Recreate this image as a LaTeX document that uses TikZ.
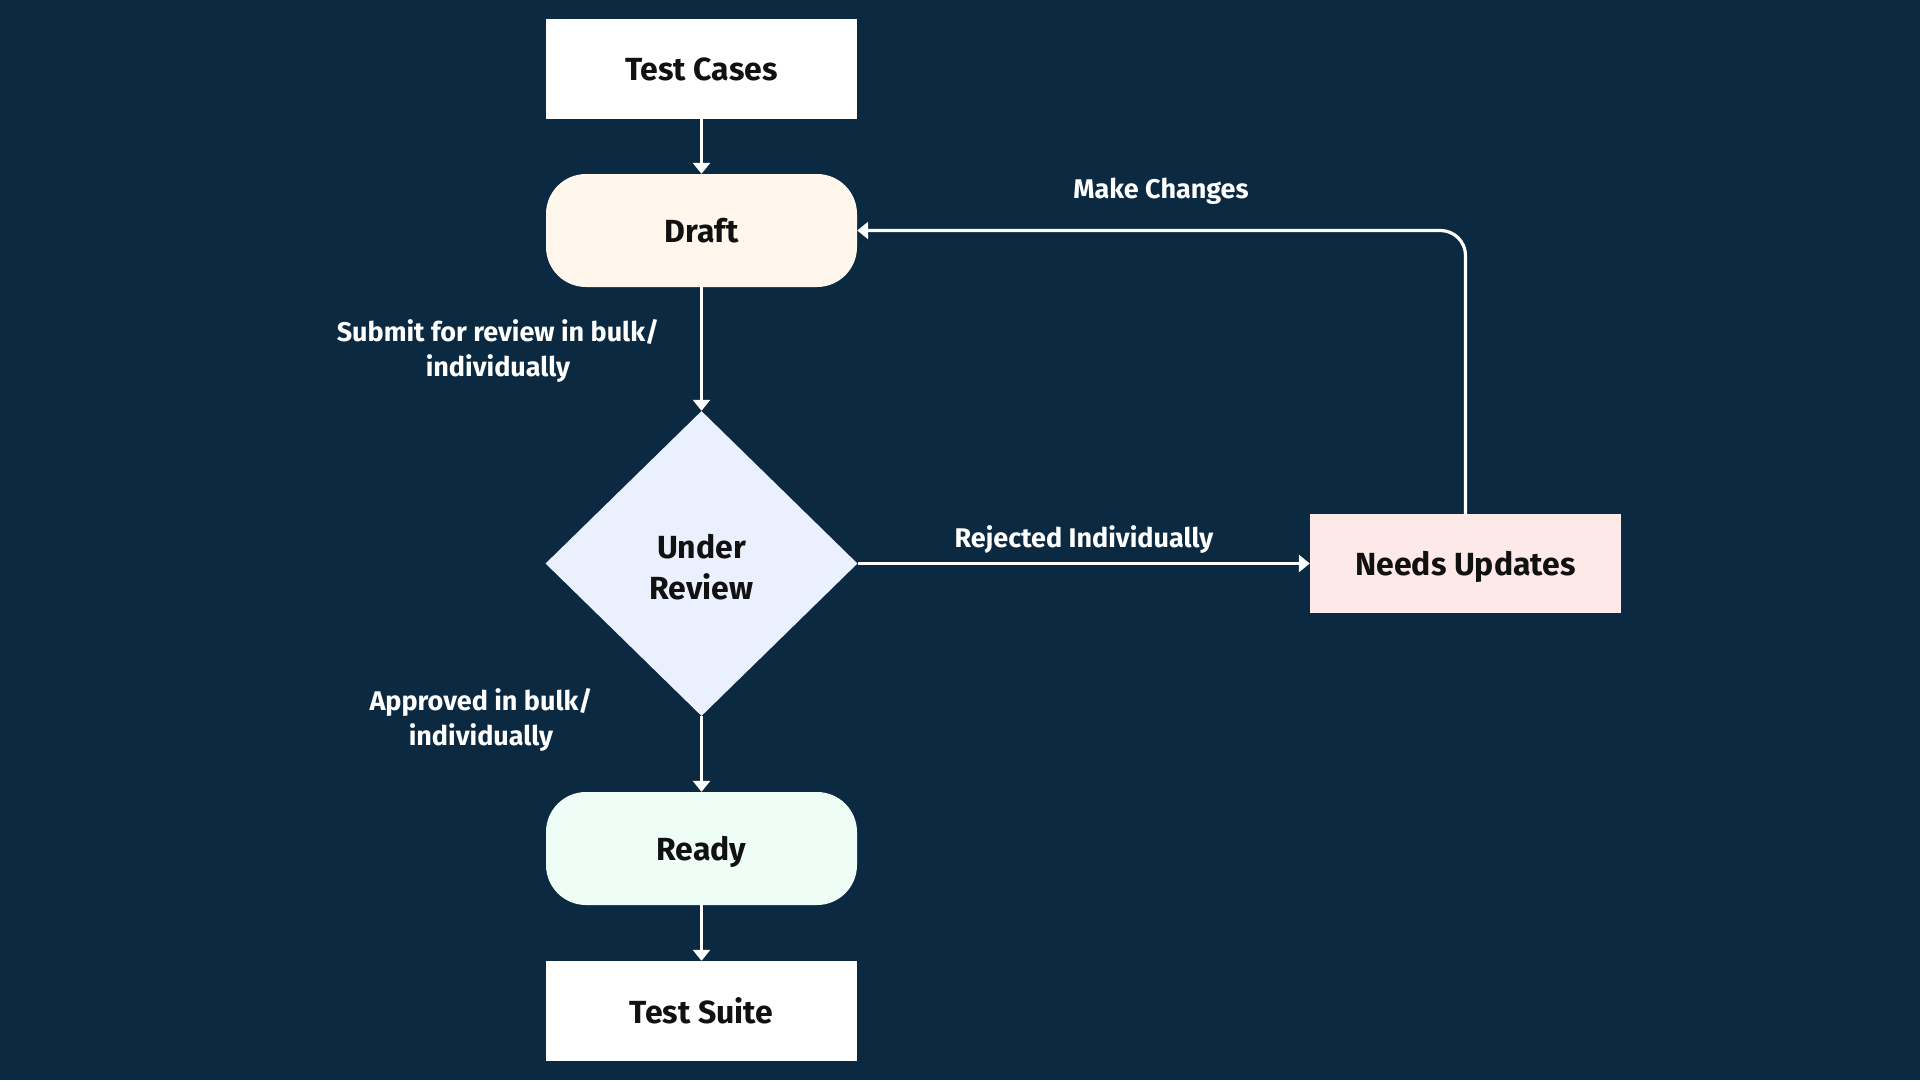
\documentclass[tikz,border=0pt]{standalone}
\usepackage{fontspec}
\setmainfont{Fira Sans}
\usetikzlibrary{shapes.geometric,arrows.meta}
\definecolor{navy}{HTML}{0B2A41}
\definecolor{cream}{HTML}{FFF6EC}
\definecolor{lavender}{HTML}{EAF0FD}
\definecolor{mint}{HTML}{EEFDF6}
\definecolor{blush}{HTML}{FDE9E7}
\definecolor{ink}{HTML}{111111}
\tikzset{
  box/.style={rectangle, fill=white, text=ink, minimum width=311pt, minimum height=100pt, text height=24pt, text depth=0pt, font=\fontsize{32}{38}\selectfont\bfseries},
  pill/.style={box, rounded corners=40pt, minimum height=113pt},
  decision/.style={diamond, fill=lavender, inner sep=0pt, minimum width=312pt, minimum height=305pt},
  dtext/.style={text=ink, align=center, yshift=-4pt, font=\fontsize{32}{41}\selectfont\bfseries},
  flow/.style={draw=white, line width=3.2pt, -{Triangle[width=17pt,length=11pt]}},
  lbl/.style={text=white, align=center, font=\fontsize{27}{35}\selectfont\bfseries}
}
\begin{document}
\begin{tikzpicture}[x=1pt, y=1pt]
  \fill[navy] (0,0) rectangle (1920,-1080);
  \useasboundingbox (0,0) rectangle (1920,-1080);

  \node (cases) [box] at (701.5,-68.5) {Test Cases};
  \node (draft) [pill, fill=cream, below of=cases, node distance=162pt] {Draft};
  \node (review) [decision, below of=draft, node distance=333pt, label={[dtext]center:{Under\\Review}}] {};
  \node (ready) [pill, fill=mint, below of=review, node distance=285pt] {Ready};
  \node (suite) [box, below of=ready, node distance=162.5pt] {Test Suite};
  \node (updates) [box, fill=blush, minimum height=99pt, right of=review, node distance=764pt] {Needs Updates};

  \draw [flow] (cases) -- (draft);
  \draw [flow] (draft) -- (review);
  \draw [flow] (review) -- (ready);
  \draw [flow] (ready) -- (suite);
  \draw [flow] (review) -- (updates);
  \draw [flow, rounded corners=25pt] (updates.north) |- (draft.east);

  \node (submit) [lbl] at (498,-351) {Submit for review in bulk/\\individually};
  \node (approved) [lbl] at (481,-720) {Approved in bulk/\\individually};
  \node (rejected) [lbl] at (1084,-540) {Rejected Individually};
  \node (changes) [lbl] at (1161,-191) {Make Changes};
\end{tikzpicture}
\end{document}
